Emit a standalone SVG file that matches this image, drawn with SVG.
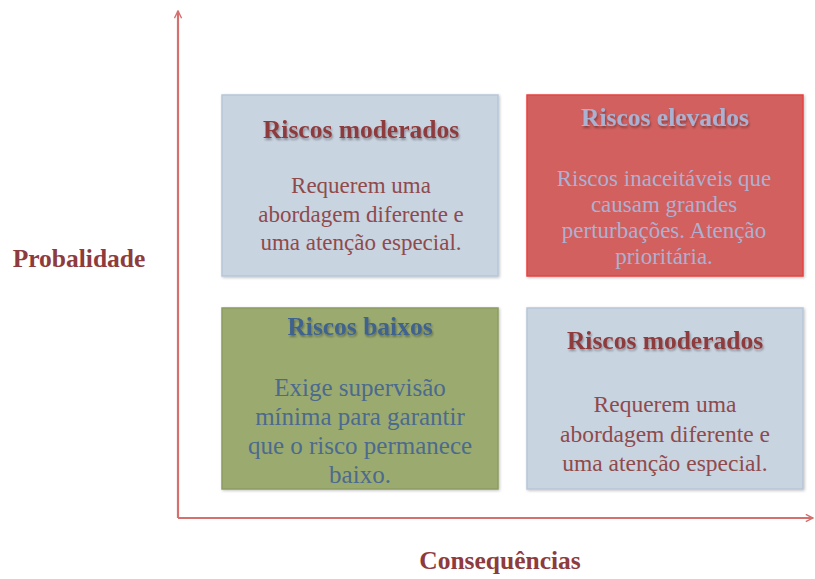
<svg xmlns="http://www.w3.org/2000/svg" width="815" height="579" viewBox="0 0 815 579">
<style>
.t{font-family:"Liberation Serif","Times New Roman",serif;text-anchor:middle}
.h{font-weight:bold;font-size:25.5px}
.b{font-size:23px}
.lbl{font-family:"Liberation Serif","Times New Roman",serif;font-weight:bold;font-size:25.5px;fill:#8e3b3d}
.axis{stroke:#d4706e;stroke-width:2.2;fill:none}
.blue{fill:#c9d4e1;stroke:#b6c6d8;stroke-width:1.5}
.red{fill:#d1615f;stroke:#e8423f;stroke-width:1.5}
.green{fill:#9bab6f;stroke:#8c9c62;stroke-width:1.5}
</style>
<defs>
<marker id="arr" viewBox="0 0 10 10" refX="9" refY="5" markerWidth="9" markerHeight="9" orient="auto" markerUnits="userSpaceOnUse">
<path d="M1,1 L9,5 L1,9" fill="none" stroke="#d4706e" stroke-width="1.6"/>
</marker>
<filter id="sh" x="-10%" y="-30%" width="120%" height="160%">
<feGaussianBlur in="SourceAlpha" stdDeviation="1.2"/>
<feOffset dx="1" dy="1.5" result="o"/>
<feComponentTransfer><feFuncA type="linear" slope="0.35"/></feComponentTransfer>
<feMerge><feMergeNode/><feMergeNode in="SourceGraphic"/></feMerge>
</filter>
<filter id="bs" x="-5%" y="-5%" width="110%" height="110%">
<feGaussianBlur in="SourceAlpha" stdDeviation="1.5"/>
<feOffset dx="1" dy="1"/>
<feComponentTransfer><feFuncA type="linear" slope="0.25"/></feComponentTransfer>
<feMerge><feMergeNode/><feMergeNode in="SourceGraphic"/></feMerge>
</filter>
</defs>
<rect width="815" height="579" fill="#ffffff"/>
<g id="connectors">
<line class="axis" x1="178" y1="518" x2="178" y2="11" marker-end="url(#arr)"/>
<line class="axis" x1="178" y1="518" x2="813" y2="518" marker-end="url(#arr)"/>
</g>
<g id="label-probalidade"><text class="lbl" x="79" y="267" text-anchor="middle">Probalidade</text></g>
<g id="label-consequencias"><text class="lbl" x="500" y="569" text-anchor="middle">Consequências</text></g>
<g id="node-top-left">
<rect class="blue" x="222" y="95" width="276" height="181" filter="url(#bs)"/>
<text class="t h" x="361" y="138" fill="#8e3b3d" filter="url(#sh)">Riscos moderados</text>
<text class="t b" fill="#8f4a4c"><tspan x="361" y="193">Requerem uma</tspan><tspan x="361" y="222">abordagem diferente e</tspan><tspan x="361" y="250">uma atenção especial.</tspan></text>
</g>
<g id="node-top-right">
<rect class="red" x="527" y="95" width="276" height="181" filter="url(#bs)"/>
<text class="t h" x="665" y="126" fill="#a9b2d2" filter="url(#sh)">Riscos elevados</text>
<text class="t b" fill="#adb0d0"><tspan x="664" y="186">Riscos inaceitáveis que</tspan><tspan x="664" y="212">causam grandes</tspan><tspan x="664" y="238">perturbações. Atenção</tspan><tspan x="664" y="264">prioritária.</tspan></text>
</g>
<g id="node-bottom-left">
<rect class="green" x="222" y="308" width="276" height="181" filter="url(#bs)"/>
<text class="t h" x="360" y="335" fill="#3f628f" filter="url(#sh)">Riscos baixos</text>
<text class="t" font-size="25" fill="#4c6a8e"><tspan x="360" y="396">Exige supervisão</tspan><tspan x="360" y="425">mínima para garantir</tspan><tspan x="360" y="454">que o risco permanece</tspan><tspan x="360" y="483">baixo.</tspan></text>
</g>
<g id="node-bottom-right">
<rect class="blue" x="527" y="308" width="276" height="181" filter="url(#bs)"/>
<text class="t h" x="665" y="349" fill="#8e3b3d" filter="url(#sh)">Riscos moderados</text>
<text class="t" font-size="23.5" fill="#8f4a4c"><tspan x="665" y="412">Requerem uma</tspan><tspan x="665" y="442">abordagem diferente e</tspan><tspan x="665" y="471">uma atenção especial.</tspan></text>
</g>
</svg>
